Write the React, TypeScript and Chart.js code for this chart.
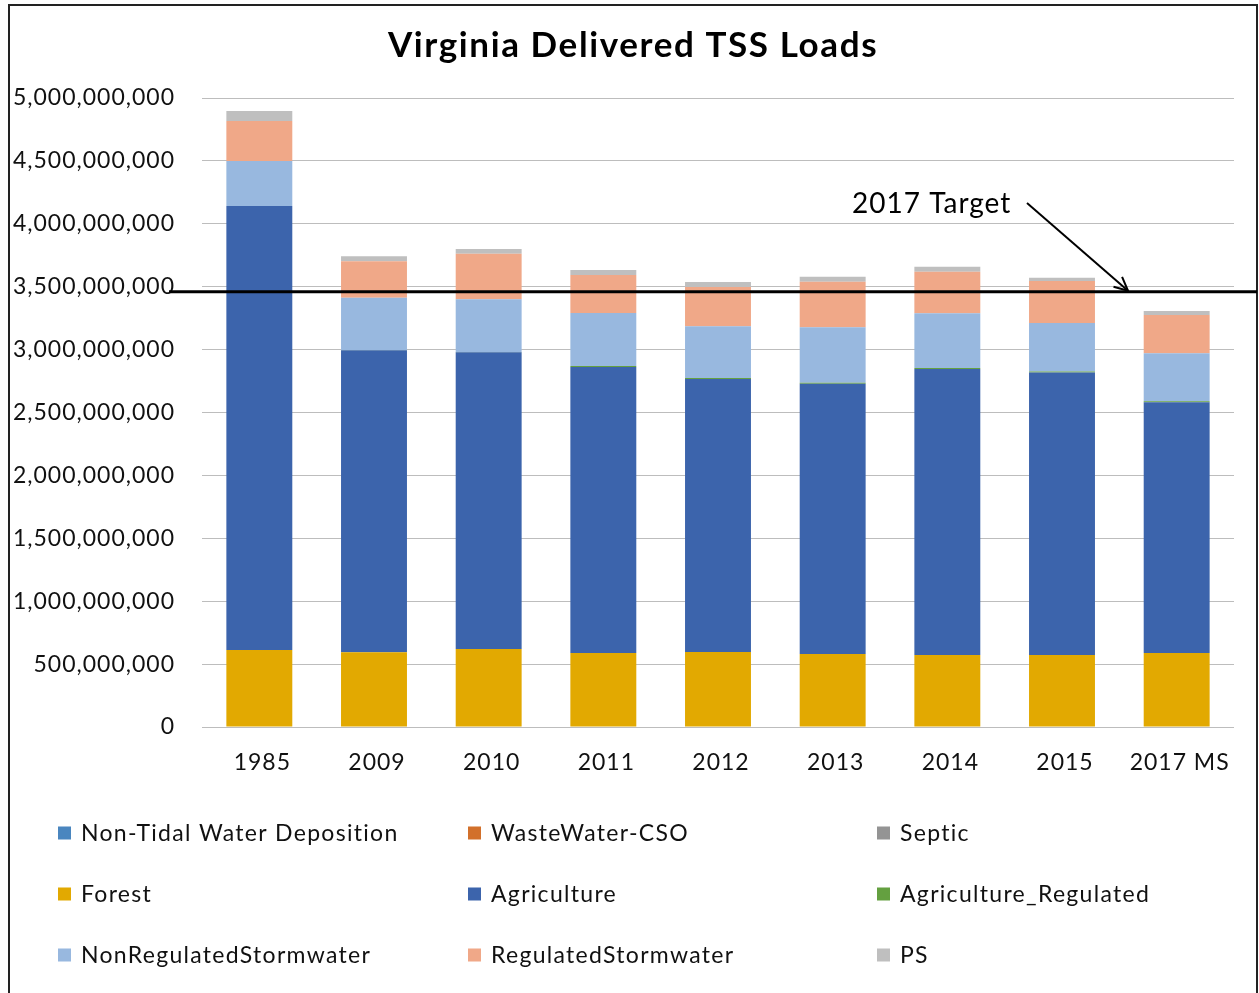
import { useEffect, useRef } from "react";
import { Chart, registerables } from "chart.js";

Chart.register(...registerables);

const categories = ["1985", "2009", "2010", "2011", "2012", "2013", "2014", "2015", "2017 MS"];

const nonTidalWaterDeposition = [0, 0, 0, 0, 0, 0, 0, 0, 0];
const wasteWaterCSO = [0, 0, 0, 0, 0, 0, 0, 0, 0];
const septic = [0, 0, 0, 0, 0, 0, 0, 0, 0];
const forest = [612e6, 594e6, 620e6, 588e6, 596e6, 580e6, 572e6, 572e6, 588e6];
const agriculture = [3530e6, 2400e6, 2358e6, 2274e6, 2170e6, 2149e6, 2274e6, 2245e6, 1993e6];
const agricultureRegulated = [0, 3e6, 3e6, 8e6, 8e6, 8e6, 8e6, 8e6, 8e6];
const nonRegulatedStormwater = [357e6, 416e6, 419e6, 421e6, 411e6, 440e6, 435e6, 386e6, 381e6];
const regulatedStormwater = [318e6, 289e6, 362e6, 302e6, 313e6, 363e6, 330e6, 334e6, 305e6];
const ps = [80e6, 40e6, 38e6, 40e6, 39e6, 40e6, 40e6, 27e6, 32e6];

const target2017 = 3.46e9;
const targetLabel = "2017 Target";
const chartTitle = "Virginia Delivered TSS Loads";
const yMin = 0;
const yMax = 5e9;
const yStep = 5e8;

const FONT = "Lato";

const seriesDefs = [
  { label: "Non-Tidal Water Deposition", data: nonTidalWaterDeposition, color: "#4a86bf" },
  { label: "WasteWater-CSO", data: wasteWaterCSO, color: "#d2702b" },
  { label: "Septic", data: septic, color: "#949494" },
  { label: "Forest", data: forest, color: "#e2a901" },
  { label: "Agriculture", data: agriculture, color: "#3c64ac" },
  { label: "Agriculture_Regulated", data: agricultureRegulated, color: "#64a040" },
  { label: "NonRegulatedStormwater", data: nonRegulatedStormwater, color: "#98b8df" },
  { label: "RegulatedStormwater", data: regulatedStormwater, color: "#f0a888" },
  { label: "PS", data: ps, color: "#bfbfbf" },
];

const spacingPlugin = {
  id: "spacing",
  beforeDraw(chart: any) {
    (chart.ctx as any).letterSpacing = "1px";
  },
};

const decorPlugin = {
  id: "decor",
  afterDraw(chart: any) {
    const ctx = chart.ctx as any;
    const area = chart.chartArea;
    const y = chart.scales.y;
    ctx.save();
    // border
    ctx.letterSpacing = "0px";
    ctx.strokeStyle = "#222";
    ctx.lineWidth = 2;
    ctx.strokeRect(9, 5, 1248, 1000);
    // title
    ctx.fillStyle = "#000";
    ctx.font = `bold 35px ${FONT}`;
    ctx.letterSpacing = "1.6px";
    ctx.textAlign = "center";
    ctx.textBaseline = "middle";
    ctx.fillText(chartTitle, 633, 46);
    // target line
    const ty = y.getPixelForValue(target2017);
    ctx.strokeStyle = "#000";
    ctx.lineWidth = 3;
    ctx.beginPath();
    ctx.moveTo(area.left - 33, ty);
    ctx.lineTo(1257, ty);
    ctx.stroke();
    // annotation text
    ctx.font = `28px ${FONT}`;
    ctx.letterSpacing = "1px";
    ctx.textAlign = "left";
    ctx.fillStyle = "#000";
    ctx.fillText(targetLabel, 852, 204);
    // arrow
    const x0 = 1027, y0 = 203, x1 = 1128, y1 = ty - 1;
    ctx.lineWidth = 2;
    ctx.beginPath();
    ctx.moveTo(x0, y0);
    ctx.lineTo(x1, y1);
    ctx.stroke();
    const ang = Math.atan2(y1 - y0, x1 - x0);
    const hl = 15;
    ctx.beginPath();
    ctx.moveTo(x1 - hl * Math.cos(ang - 0.45), y1 - hl * Math.sin(ang - 0.45));
    ctx.lineTo(x1, y1);
    ctx.lineTo(x1 - hl * Math.cos(ang + 0.45), y1 - hl * Math.sin(ang + 0.45));
    ctx.stroke();
    // legend
    const colX = [58, 468, 877];
    const rowY = [833, 894, 955];
    ctx.font = `23px ${FONT}`;
    ctx.letterSpacing = "1.3px";
    ctx.textBaseline = "middle";
    seriesDefs.forEach((s, i) => {
      const cx = colX[i % 3];
      const cy = rowY[Math.floor(i / 3)];
      ctx.fillStyle = s.color;
      ctx.fillRect(cx, cy - 6.5, 13, 13);
      ctx.fillStyle = "#111";
      ctx.fillText(s.label, cx + 23, cy + 1);
    });
    ctx.restore();
    ctx.letterSpacing = "0px";
  },
};

export default function App() {
  const ref = useRef<HTMLCanvasElement | null>(null);
  useEffect(() => {
    if (!ref.current) return;
    const chart = new Chart(ref.current, {
      type: "bar",
      data: {
        labels: categories,
        datasets: seriesDefs.map((s) => ({
          label: s.label,
          data: s.data,
          backgroundColor: s.color,
          borderWidth: 0,
          categoryPercentage: 1,
          barPercentage: 0.575,
          stack: "a",
        })),
      },
      options: {
        responsive: false,
        animation: false,
        devicePixelRatio: 1,
        layout: { padding: { left: 0, right: 25, top: 98, bottom: 206 } },
        plugins: {
          legend: { display: false },
          title: { display: false },
          tooltip: { enabled: false },
        },
        scales: {
          x: {
            stacked: true,
            grid: { display: false, drawTicks: false },
            border: { display: false },
            ticks: { font: { family: FONT, size: 23 }, color: "#111", padding: 22, maxRotation: 0, labelOffset: 3 },
            afterFit: (s: any) => {
              s.height = 60;
            },
          },
          y: {
            stacked: true,
            min: yMin,
            max: yMax,
            grid: { color: "#bdbdbd", lineWidth: 1, drawTicks: false },
            border: { display: false },
            ticks: {
              stepSize: yStep,
              font: { family: FONT, size: 23 },
              color: "#111",
              padding: 27,
              callback: (v: any) => Number(v).toLocaleString("en-US"),
            },
            afterFit: (s: any) => {
              s.width = 202;
            },
          },
        },
      },
      plugins: [spacingPlugin, decorPlugin],
    });
    return () => chart.destroy();
  }, []);
  return (
    <div style={{ position: "fixed", left: 0, top: 0, width: 1259, height: 993, background: "#fff" }}>
      <canvas ref={ref} width={1259} height={993} style={{ display: "block" }} />
    </div>
  );
}
